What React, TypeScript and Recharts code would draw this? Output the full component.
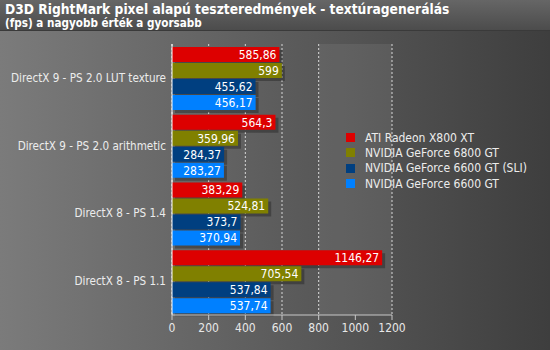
import React from 'react';
import { BarChart, Bar, XAxis, YAxis, CartesianGrid, LabelList } from 'recharts';

const categories = [
  'DirectX 9 - PS 2.0 LUT texture',
  'DirectX 9 - PS 2.0 arithmetic',
  'DirectX 8 - PS 1.4',
  'DirectX 8 - PS 1.1',
];
const seriesNames = [
  'ATI Radeon X800 XT',
  'NVIDIA GeForce 6800 GT',
  'NVIDIA GeForce 6600 GT (SLI)',
  'NVIDIA GeForce 6600 GT',
];
const ati = [585.86, 564.3, 383.29, 1146.27];
const nv6800 = [599, 359.96, 524.81, 705.54];
const nv6600sli = [455.62, 284.37, 373.7, 537.84];
const nv6600 = [456.17, 283.27, 370.94, 537.74];
const xTicks = [0, 200, 400, 600, 800, 1000, 1200];
const colors = ['#dd0000', '#808000', '#003f80', '#0080ff'];

const data = categories.map((c, i) => ({
  name: c,
  s0: ati[i],
  s1: nv6800[i],
  s2: nv6600sli[i],
  s3: nv6600[i],
}));

const FONT = 'Tahoma, "DejaVu Sans Condensed", "DejaVu Sans", sans-serif';

const fmt = (v: any) => String(v).replace('.', ',');

const ShadowBar = (props: any) => {
  const { x, y, width, height, fill } = props;
  if (!width || width <= 0) return null;
  return (
    <g>
      <rect x={x + 3} y={y + 3} width={width} height={height} fill="rgba(0,0,0,0.28)" />
      <rect x={x} y={y} width={width} height={height} fill={fill} />
    </g>
  );
};

const CatTick = (props: any) => {
  const { x, y, payload } = props;
  return (
    <text
      x={x - 4}
      y={y}
      dy="0.35em"
      textAnchor="end"
      fill="#ececec"
      fontSize={11.6}
      fontFamily={FONT}
    >
      {payload.value}
    </text>
  );
};

export default function App() {
  return (
    <div
      style={{
        position: 'absolute',
        left: 0,
        top: 0,
        width: 550,
        height: 350,
        background: 'linear-gradient(to right, #7b7b7b, #3e3e3e)',
        fontFamily: FONT,
        overflow: 'hidden',
      }}
    >
      <div
        style={{
          position: 'absolute',
          left: 0,
          top: 0,
          width: 550,
          height: 30,
          background: 'linear-gradient(to bottom, #666666, #4c4c4c)',
          borderBottom: '1px solid #3a3a3a',
        }}
      />
      <div
        style={{
          position: 'absolute',
          left: 5,
          top: 1,
          color: '#ffffff',
          fontWeight: 'bold',
          fontSize: 13.7,
          whiteSpace: 'nowrap',
        }}
      >
        D3D RightMark pixel alapú teszteredmények - textúragenerálás
      </div>
      <div
        style={{
          position: 'absolute',
          left: 5,
          top: 16,
          color: '#ffffff',
          fontWeight: 'bold',
          fontSize: 11.6,
          whiteSpace: 'nowrap',
        }}
      >
        (fps) a nagyobb érték a gyorsabb
      </div>
      <div style={{ position: 'absolute', left: 0, top: 0 }}>
        <BarChart
          width={550}
          height={350}
          data={data}
          layout="vertical"
          margin={{ top: 44, right: 158, bottom: 5, left: 0 }}
          barCategoryGap={3}
          barGap={1}
        >
          <CartesianGrid
            horizontal={false}
            stroke="#d8d8d8"
            strokeDasharray="2 2"
            verticalFill={['rgba(255,255,255,0)', 'rgba(255,255,255,0)', 'rgba(255,255,255,0)', 'rgba(255,255,255,0)', 'rgba(255,255,255,0.07)', 'rgba(255,255,255,0)']}
          />
          <XAxis
            type="number"
            domain={[0, 1200]}
            ticks={xTicks}
            height={30}
            stroke="#c8c8c8"
            tick={{ fill: '#e8e8e8', fontSize: 12, fontFamily: FONT }}
            tickSize={5}
            tickMargin={3}
          />
          <YAxis
            type="category"
            dataKey="name"
            width={172}
            stroke="#ffffff"
            tickLine={false}
            tickSize={0}
            tick={<CatTick />}
          />
          {['s0', 's1', 's2', 's3'].map((k, i) => (
            <Bar key={k} dataKey={k} name={seriesNames[i]} fill={colors[i]} isAnimationActive={false} shape={ShadowBar}>
              <LabelList
                dataKey={k}
                position="insideRight"
                offset={3}
                formatter={fmt}
                fill="#ffffff"
                style={{ fontSize: 12, fontFamily: FONT, fill: '#ffffff' }}
              />
            </Bar>
          ))}
        </BarChart>
      </div>
      <div style={{ position: 'absolute', left: 346, top: 130 }}>
        {seriesNames.map((n, i) => (
          <div key={n} style={{ display: 'flex', alignItems: 'center', height: 15.3 }}>
            <div style={{ width: 9, height: 9, background: colors[i], marginRight: 10 }} />
            <span style={{ color: '#ececec', fontSize: 12, whiteSpace: 'nowrap' }}>{n}</span>
          </div>
        ))}
      </div>
    </div>
  );
}
